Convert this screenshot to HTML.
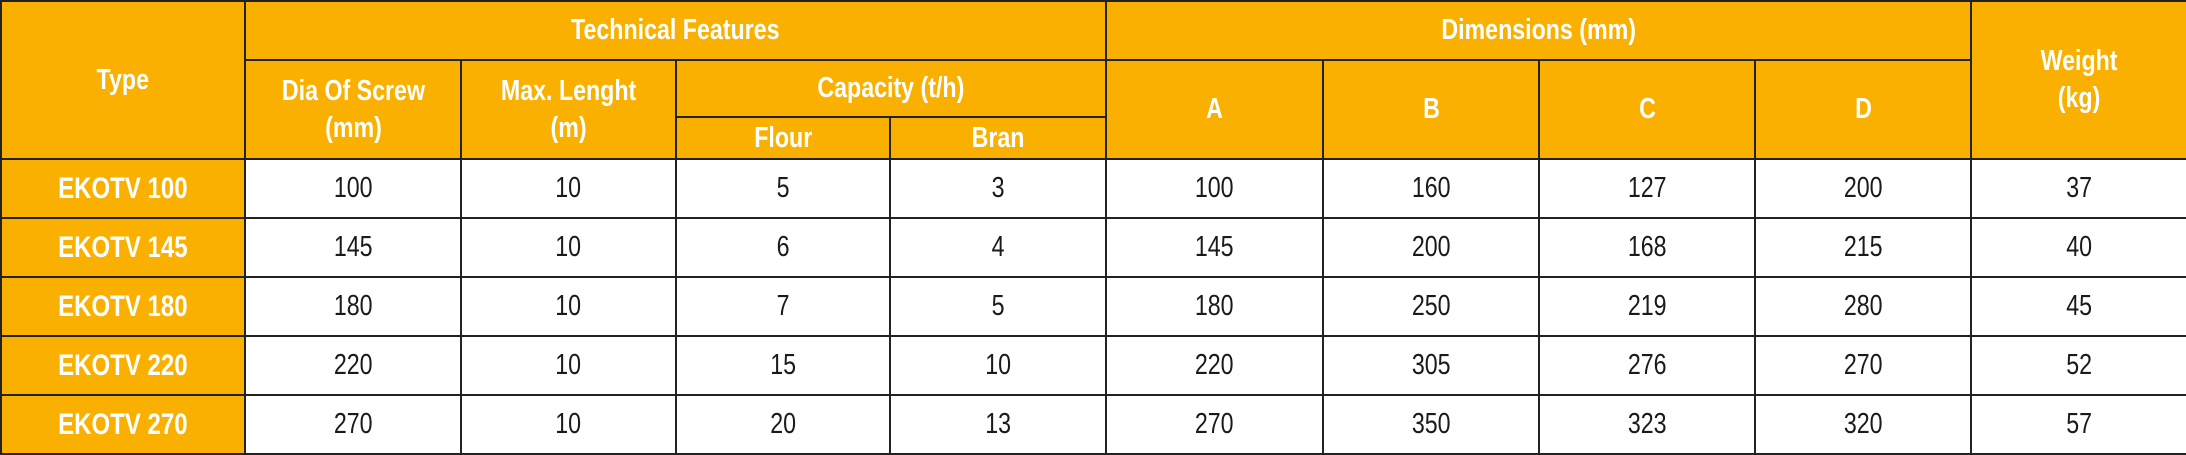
<!DOCTYPE html>
<html><head><meta charset="utf-8"><style>
html,body{margin:0;padding:0;background:#fff;}
body{width:2186px;height:453px;overflow:hidden;}
table{border-collapse:collapse;table-layout:fixed;width:2186px;height:453px;font-family:"Liberation Sans",sans-serif;}
td{border:2.5px solid #222;text-align:center;vertical-align:middle;padding:0;}
td span{display:inline-block;transform:scaleX(0.8);white-space:nowrap;}
.h{background:#F9B000;color:#fff;font-weight:bold;font-size:29px;line-height:37px;}
.t{background:#F9B000;color:#fff;font-weight:bold;font-size:30px;}
.d{color:#1a1a1a;font-size:29px;background:#fff;}
.d span{transform:scaleX(0.8);}
</style></head><body>
<table>
<colgroup><col style="width:244px"><col style="width:216px"><col style="width:215px"><col style="width:214px"><col style="width:216px"><col style="width:217px"><col style="width:216px"><col style="width:216px"><col style="width:216px"><col style="width:216px"></colgroup>
<tr style="height:59px"><td class="h" rowspan="3"><span>Type</span></td><td class="h" colspan="4"><span>Technical Features</span></td><td class="h" colspan="4"><span>Dimensions (mm)</span></td><td class="h" rowspan="3"><span>Weight<br>(kg)</span></td></tr>
<tr style="height:57px"><td class="h" rowspan="2"><span>Dia Of Screw<br>(mm)</span></td><td class="h" rowspan="2"><span>Max. Lenght<br>(m)</span></td><td class="h" colspan="2"><span>Capacity (t/h)</span></td><td class="h" rowspan="2"><span>A</span></td><td class="h" rowspan="2"><span>B</span></td><td class="h" rowspan="2"><span>C</span></td><td class="h" rowspan="2"><span>D</span></td></tr>
<tr style="height:42px"><td class="h"><span>Flour</span></td><td class="h"><span>Bran</span></td></tr>
<tr style="height:59px"><td class="t"><span>EKOTV 100</span></td><td class="d"><span>100</span></td><td class="d"><span>10</span></td><td class="d"><span>5</span></td><td class="d"><span>3</span></td><td class="d"><span>100</span></td><td class="d"><span>160</span></td><td class="d"><span>127</span></td><td class="d"><span>200</span></td><td class="d"><span>37</span></td></tr>
<tr style="height:59px"><td class="t"><span>EKOTV 145</span></td><td class="d"><span>145</span></td><td class="d"><span>10</span></td><td class="d"><span>6</span></td><td class="d"><span>4</span></td><td class="d"><span>145</span></td><td class="d"><span>200</span></td><td class="d"><span>168</span></td><td class="d"><span>215</span></td><td class="d"><span>40</span></td></tr>
<tr style="height:59px"><td class="t"><span>EKOTV 180</span></td><td class="d"><span>180</span></td><td class="d"><span>10</span></td><td class="d"><span>7</span></td><td class="d"><span>5</span></td><td class="d"><span>180</span></td><td class="d"><span>250</span></td><td class="d"><span>219</span></td><td class="d"><span>280</span></td><td class="d"><span>45</span></td></tr>
<tr style="height:59px"><td class="t"><span>EKOTV 220</span></td><td class="d"><span>220</span></td><td class="d"><span>10</span></td><td class="d"><span>15</span></td><td class="d"><span>10</span></td><td class="d"><span>220</span></td><td class="d"><span>305</span></td><td class="d"><span>276</span></td><td class="d"><span>270</span></td><td class="d"><span>52</span></td></tr>
<tr style="height:59px"><td class="t"><span>EKOTV 270</span></td><td class="d"><span>270</span></td><td class="d"><span>10</span></td><td class="d"><span>20</span></td><td class="d"><span>13</span></td><td class="d"><span>270</span></td><td class="d"><span>350</span></td><td class="d"><span>323</span></td><td class="d"><span>320</span></td><td class="d"><span>57</span></td></tr>
</table>
</body></html>
